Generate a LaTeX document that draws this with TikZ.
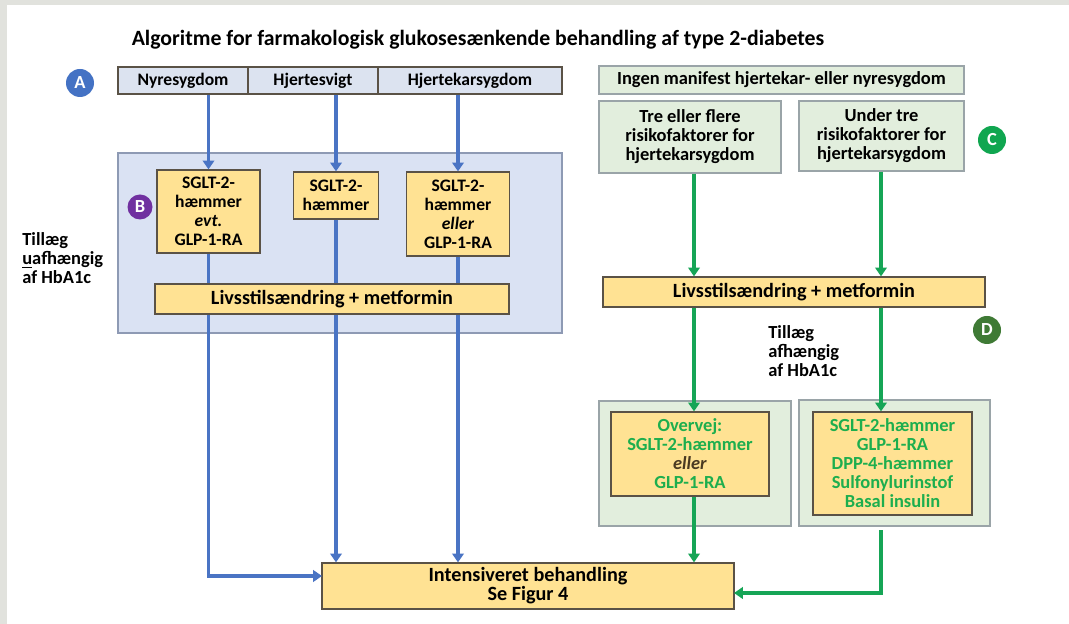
\documentclass[tikz,border=0pt]{standalone}
\usepackage{fontspec}
\setmainfont{Carlito}
\usetikzlibrary{arrows.meta}
\definecolor{frame}{HTML}{E1E2DD}
\definecolor{ablue}{HTML}{4A74C4}
\definecolor{agreen}{HTML}{16A556}
\definecolor{tgreen}{HTML}{1DAE4E}
\definecolor{yfill}{HTML}{FFE293}
\definecolor{hfill}{HTML}{DCE3F0}
\definecolor{bfill}{HTML}{DAE2F3}
\definecolor{gfill}{HTML}{E2EEDD}
\definecolor{boxline}{HTML}{5A5246}
\definecolor{pline}{HTML}{8E9AB4}
\definecolor{gline}{HTML}{9AA4A8}
\definecolor{cA}{HTML}{4472C4}
\definecolor{cB}{HTML}{7030A0}
\definecolor{cC}{HTML}{10A650}
\definecolor{cD}{HTML}{3F7A35}
\definecolor{eller}{HTML}{4A3A22}
\tikzset{
    sz/.style 2 args={minimum width=#1*0.02cm,minimum height=#2*0.02cm},
    ybox/.style={draw=boxline,fill=yfill,line width=.7pt,inner sep=0,align=center,font=\bfseries\fontsize{10}{10.8}\selectfont},
    hdr/.style={draw=boxline,fill=hfill,line width=.6pt,inner sep=0,font=\bfseries\fontsize{10}{11}\selectfont},
    gbox/.style={draw=gline,fill=gfill,line width=.6pt,inner sep=0,align=center,font=\bfseries\fontsize{10.5}{10.8}\selectfont},
    panelB/.style={draw=pline,fill=bfill,line width=.6pt,inner sep=0},
    panelG/.style={draw=gline,fill=gfill,line width=.6pt,inner sep=0},
    badge/.style={circle,fill=#1,text=white,inner sep=0,minimum size=28*0.02cm,font=\bfseries\fontsize{10.5}{10}\selectfont},
    note/.style={align=left,inner sep=0,font=\bfseries\fontsize{10.5}{10.6}\selectfont},
    barrow/.style={draw=ablue,line width=1.8pt,-{Triangle[width=6.5pt,length=5pt]}},
    garrow/.style={draw=agreen,line width=1.8pt,-{Triangle[width=6.5pt,length=5pt]}}
}
\begin{document}
\begin{tikzpicture}[x=0.02cm,y=-0.02cm]
    \useasboundingbox(0,0)rectangle(1069,624);
    \fill[frame](0,0)rectangle(1069,624);
    \fill[white](7,5)rectangle(1069,624);
    \node[inner sep=0,font=\bfseries\fontsize{12.4}{14}\selectfont](title)at(478,40){Algoritme for farmakologisk glukosesænkende behandling af type 2-diabetes};
    % venstre side
    \node[badge=cA](A)at(80,83){A};
    \node[hdr,sz={130}{27}](ny)at(183,80.5){Nyresygdom};
    \node[hdr,sz={130}{27}](hs)at(313,80.5){Hjertesvigt};
    \node[hdr,sz={184}{27}](hk)at(470,80.5){Hjertekarsygdom};
    \node[panelB,sz={444}{180}](pB)at(340,243){};
    \node[badge=cB,minimum size=25*0.02cm](B)at(140,207){B};
    \node[ybox,sz={103}{83}](b1)at(208.5,211.5){SGLT-2-\\hæmmer\\\textit{evt.}\\GLP-1-RA};
    \node[ybox,sz={85}{47}](b2)at(336,195.5){SGLT-2-\\hæmmer};
    \node[ybox,sz={103}{84}](b3)at(458,214){SGLT-2-\\hæmmer\\\textit{eller}\\GLP-1-RA};
    \node[ybox,sz={412}{46},font=\bfseries\fontsize{11.5}{10.8}\selectfont](in)at(528,586){Intensiveret behandling\\Se Figur 4};
    \coordinate(inL)at(322,576);
    \coordinate(inR)at(734,593);
    \draw[barrow](ny.south-|b1)--(b1.north);
    \draw[barrow](hs.south-|b2)--(b2.north);
    \draw[barrow](hk.south-|b3)--(b3.north);
    \draw[barrow](b1.south)|-(inL);
    \draw[barrow](b2.south)--(in.north-|b2);
    \draw[barrow](b3.south)--(in.north-|b3);
    \node[ybox,sz={354}{30},font=\bfseries\fontsize{11.5}{13}\selectfont](livL)at(332,299){Livsstilsændring + metformin};
    \node[note,anchor=west](tu)at(22,258){Tillæg\\\underline{u}afhængig\\af HbA1c};
    % hoejre side
    \node[gbox,sz={365}{28}](ing)at(781.5,80){Ingen manifest hjertekar- eller nyresygdom};
    \node[gbox,sz={182}{72}](tre)at(690,137){Tre eller flere\\risikofaktorer for\\hjertekarsygdom};
    \node[gbox,sz={165}{70}](und)at(881.5,136){Under tre\\risikofaktorer for\\hjertekarsygdom};
    \node[badge=cC](C)at(992,140){C};
    \node[ybox,sz={382}{30},font=\bfseries\fontsize{11.5}{13}\selectfont](livR)at(794,292){Livsstilsændring + metformin};
    \node[badge=cD](D)at(987,330){D};
    \node[note,anchor=west](ta)at(768,351){Tillæg\\afhængig\\af HbA1c};
    \node[panelG,sz={192}{125}](pG1)at(695,463.5){};
    \node[panelG,sz={191}{126}](pG2)at(894.5,463){};
    \node[ybox,sz={158}{84},text=tgreen,font=\bfseries\fontsize{10.5}{10.8}\selectfont](g1)at(690,454){Overvej:\\SGLT-2-hæmmer\\\textcolor{eller}{\textit{eller}}\\GLP-1-RA};
    \node[ybox,sz={159}{103},text=tgreen,font=\bfseries\fontsize{10.5}{10.8}\selectfont](g2)at(892.5,463.5){SGLT-2-hæmmer\\GLP-1-RA\\DPP-4-hæmmer\\Sulfonylurinstof\\Basal insulin};
    \coordinate(cl)at(694,0);
    \coordinate(cr)at(881,0);
    \draw[garrow](tre.south-|cl)--(livR.north-|cl);
    \draw[garrow](und.south-|cr)--(livR.north-|cr);
    \draw[garrow](livR.south-|cl)--(g1.north-|cl);
    \draw[garrow](livR.south-|cr)--(g2.north-|cr);
    \draw[garrow](g1.south-|cl)--(in.north-|cl);
    \draw[garrow]([yshift=-2pt]pG2.south-|cr)|-(inR);
\end{tikzpicture}
\end{document}
